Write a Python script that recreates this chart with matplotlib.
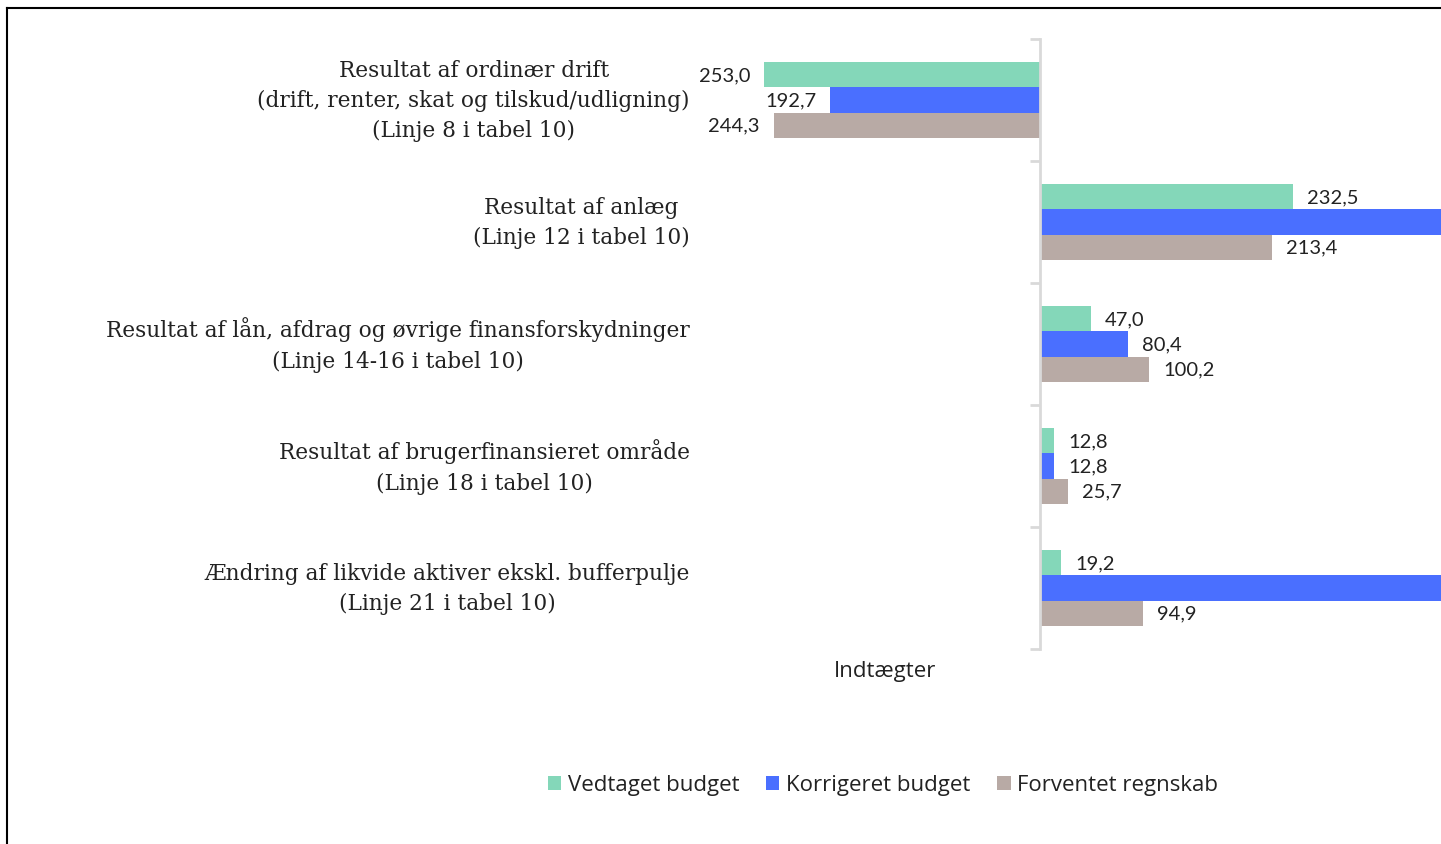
import matplotlib
matplotlib.use("Agg")
import matplotlib.pyplot as plt
from matplotlib.patches import Patch
from matplotlib.lines import Line2D

categories = [
    "Resultat af ordinær drift\n(drift, renter, skat og tilskud/udligning)\n(Linje 8 i tabel 10)",
    "Resultat af anlæg\n(Linje 12 i tabel 10)",
    "Resultat af lån, afdrag og øvrige finansforskydninger\n(Linje 14-16 i tabel 10)",
    "Resultat af brugerfinansieret område\n(Linje 18 i tabel 10)",
    "Ændring af likvide aktiver ekskl. bufferpulje\n(Linje 21 i tabel 10)",
]
series_names = ["Vedtaget budget", "Korrigeret budget", "Forventet regnskab"]
vedtaget = [-253.0, 232.5, 47.0, 12.8, 19.2]
korrigeret = [-192.7, 420.0, 80.4, 12.8, 400.0]
forventet = [-244.3, 213.4, 100.2, 25.7, 94.9]
colors = ["#84D7B9", "#4A6FFF", "#B8AAA5"]
axis_title = "Indtægter"

W, H = 1441, 845
fig = plt.figure(figsize=(W / 100, H / 100), dpi=100)

# axes geometry in pixels
ax_left_px, ax_right_px = 700, 1441
ax_top_px, ax_bot_px = 40, 650
zero_px = 1040
scale = 1.089  # px per unit

ax = fig.add_axes([ax_left_px / W, 1 - ax_bot_px / H,
                   (ax_right_px - ax_left_px) / W, (ax_bot_px - ax_top_px) / H])
xmin, xmax = -(zero_px - ax_left_px) / scale, (ax_right_px - zero_px) / scale
ax.set_xlim(xmin, xmax)
ax.set_ylim(len(categories) - 0.5, -0.5)

bh = 0.207
offsets = [-bh, 0, bh]
all_series = [vedtaget, korrigeret, forventet]
for s, (vals, col, off) in enumerate(zip(all_series, colors, offsets)):
    ys = [i + off for i in range(len(categories))]
    ax.barh(ys, vals, height=bh, color=col, edgecolor="none", zorder=2)
    for y, v in zip(ys, vals):
        lab = f"{abs(v):.1f}".replace(".", ",")
        pad = 14 / scale
        if v >= 0:
            if v + pad + 50 > xmax:
                continue  # label lies outside the visible area (clipped in reference)
            ax.text(v + pad, y, lab, ha="left", va="center", fontsize=14.5,
                    family=["Lato", "DejaVu Sans"], color="#222222")
        else:
            ax.text(v - pad, y, lab, ha="right", va="center", fontsize=14.5,
                    family=["Lato", "DejaVu Sans"], color="#222222")

for sp in ["top", "right", "bottom"]:
    ax.spines[sp].set_visible(False)
ax.spines["left"].set_position(("data", 0))
ax.spines["left"].set_color("#D9D9D9")
ax.spines["left"].set_linewidth(2)
ax.set_yticks([i - 0.5 for i in range(len(categories) + 1)])
ax.set_yticklabels([])
ax.tick_params(axis="y", direction="out", length=7, width=2, color="#D9D9D9")
ax.set_xticks([])
ax.patch.set_visible(False)

for i, c in enumerate(categories):
    ax.text(-0.0135, i, c, transform=ax.get_yaxis_transform(), ha="right", va="center",
            multialignment="center", fontsize=15.6, family=["DejaVu Serif"],
            color="#222222", linespacing=1.47, clip_on=False)

fig.text(885 / W, 1 - 672 / H, axis_title, ha="center", va="center", fontsize=16,
         family=["Open Sans", "DejaVu Sans"], color="#222222")

handles = [Patch(facecolor=c, edgecolor="none") for c in colors]
fig.legend(handles, series_names, loc="center", bbox_to_anchor=(883 / W, 1 - 786 / H),
           ncol=3, frameon=False, prop={"family": ["Open Sans", "DejaVu Sans"], "size": 16},
           handlelength=0.6, handleheight=0.6, handletextpad=0.3, columnspacing=1.2,
           labelcolor="#222222")

# outer frame (top and left visible)
fig.add_artist(Line2D([7 / W, 1], [1 - 8.5 / H, 1 - 8.5 / H], transform=fig.transFigure,
                      color="black", linewidth=1.5))
fig.add_artist(Line2D([7 / W, 7 / W], [0, 1 - 8.5 / H], transform=fig.transFigure,
                      color="black", linewidth=1.5))

fig.savefig("out.png", dpi=100)
